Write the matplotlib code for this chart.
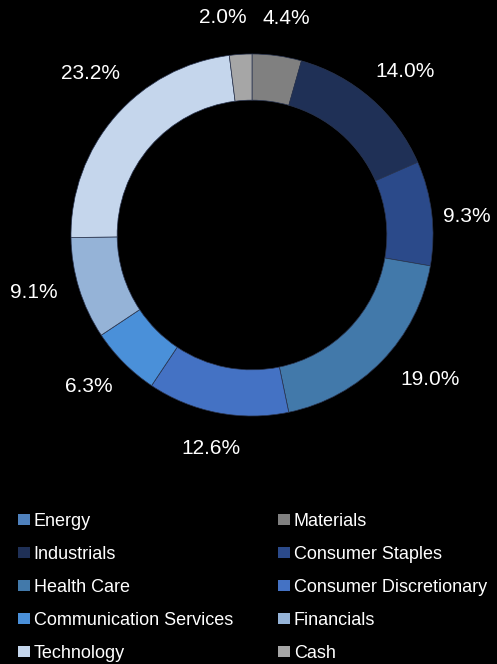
import numpy as np
import matplotlib.pyplot as plt
from matplotlib.patches import Patch

plt.rcParams['font.family'] = ['Liberation Sans', 'DejaVu Sans']

# sector weights (%), clockwise from the top
sectors = ["Energy", "Materials", "Industrials", "Consumer Staples", "Health Care",
           "Consumer Discretionary", "Communication Services", "Financials",
           "Technology", "Cash"]
weights = [0.0, 4.4, 14.0, 9.3, 19.0, 12.6, 6.3, 9.1, 23.2, 2.0]
colors = ["#4F81BD", "#808080", "#1F3056", "#2B4A8A", "#4279AA",
          "#4472C4", "#4A90D9", "#95B3D7", "#C5D6EC", "#A6A6A6"]

W, H = 497, 664
fig = plt.figure(figsize=(W / 100, H / 100), dpi=100, facecolor="black")

cx, cy, r = 252, 235, 181
ax = fig.add_axes([(cx - r) / W, 1 - (cy + r) / H, 2 * r / W, 2 * r / H])
ax.set_facecolor("black")

wedges, _ = ax.pie(weights, colors=colors, startangle=90, counterclock=False,
                   wedgeprops=dict(width=0.255, edgecolor="#2a3550", linewidth=0.5))

# percentage labels outside the ring (small nudges like Excel's label placement)
nudge = {"Cash": 4, "Materials": -1, "Industrials": -2, "Consumer Staples": -2,
         "Health Care": 5, "Communication Services": -2, "Financials": -2.5,
         "Technology": -4}
dist = {"Materials": 1.21, "Cash": 1.21, "Industrials": 1.24, "Consumer Staples": 1.19,
        "Health Care": 1.27, "Consumer Discretionary": 1.2, "Financials": 1.245,
        "Technology": 1.26}
for name, w, wd in zip(sectors, weights, wedges):
    if w <= 0:
        continue
    ang = np.deg2rad((wd.theta1 + wd.theta2) / 2 + nudge.get(name, 0))
    d = dist.get(name, 1.23)
    ax.text(d * np.cos(ang), d * np.sin(ang), f"{w:.1f}%", color="white",
            fontsize=15, ha="center", va="center")
ax.set_xlim(-1, 1)
ax.set_ylim(-1, 1)
ax.set_aspect("equal")

# legend: two columns, filled row by row
handles = [Patch(facecolor=c, edgecolor="none") for c in colors]
order = [0, 2, 4, 6, 8, 1, 3, 5, 7, 9]
fig.legend([handles[i] for i in order], [sectors[i] for i in order],
           ncol=2, loc="upper left", bbox_to_anchor=(0.036, 1 - 513 / H),
           frameon=False, fontsize=13, labelcolor="white",
           handlelength=0.67, handleheight=0.55, handletextpad=0.2,
           labelspacing=0.88, columnspacing=2.5, borderaxespad=0, borderpad=0)

fig.savefig("out.png", dpi=100, facecolor="black")
